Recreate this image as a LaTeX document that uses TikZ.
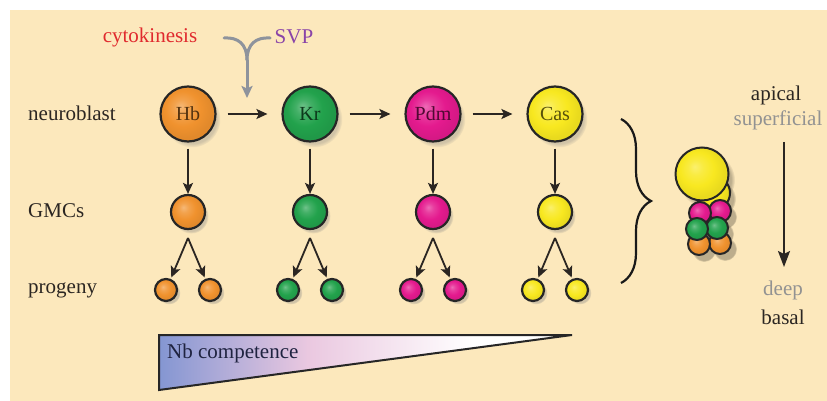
\documentclass[tikz,border=0pt]{standalone}
\usepackage{fontspec}
\setmainfont{Liberation Serif}
\usetikzlibrary{arrows.meta,shadows,fadings,decorations.pathreplacing}

\definecolor{bg}{HTML}{FCE8BC}
\definecolor{cOrange}{HTML}{F0922E}
\definecolor{cGreen}{HTML}{22A24C}
\definecolor{cMagenta}{HTML}{E41A8E}
\definecolor{cYellow}{HTML}{F8E820}
\definecolor{ink}{HTML}{2B2622}
\definecolor{navy}{HTML}{1F2340}
\definecolor{cytoRed}{HTML}{E02A2E}
\definecolor{svpPurple}{HTML}{8A44A8}
\definecolor{ygray}{HTML}{8E939C}
\definecolor{softgray}{HTML}{929292}
\definecolor{gradBlue}{HTML}{8496D2}
\definecolor{gradPink}{HTML}{EAC8E0}

% cell shading: soft highlight towards the upper left
\colorlet{cellc}{cOrange}
\pgfdeclareradialshading[cellc]{cellshade}{\pgfpoint{-7bp}{7bp}}{%
  color(0bp)=(cellc!65!white); color(7bp)=(cellc!85!white);
  color(16bp)=(cellc); color(25bp)=(cellc!94!black); color(50bp)=(cellc!94!black)}

% competence wedge: blue to pink to white
\pgfdeclarehorizontalshading{compshade}{100bp}{%
  color(0bp)=(gradBlue); color(25bp)=(gradBlue); color(43bp)=(gradPink);
  color(63bp)=(white); color(100bp)=(white)}

\begin{document}
\begin{tikzpicture}[x=1pt,y=-1pt,
  lbl/.style={font=\fontsize{21}{24}\selectfont, text=ink, inner sep=0pt},
  cell/.style={circle, draw=black!85, line width=2.2pt,
    /utils/exec={\colorlet{cellc}{#1}}, shading=cellshade,
    inner sep=0pt, text=#1!35!black, font=\fontsize{20}{22}\selectfont},
  nbcell/.style={cell=#1, minimum size=55pt,
    circular drop shadow={shadow xshift=4pt, shadow yshift=-5pt, opacity=.35, shadow scale=1.03}},
  gmccell/.style={cell=#1, minimum size=34pt,
    circular drop shadow={shadow xshift=3pt, shadow yshift=-4pt, opacity=.35, shadow scale=1.03}},
  progcell/.style={cell=#1, minimum size=22pt,
    circular drop shadow={shadow xshift=3pt, shadow yshift=-3pt, opacity=.35, shadow scale=1.03}},
  stackcell/.style={cell=#1, line width=2pt},
  arr/.style={-{Stealth[length=11pt,width=10pt,inset=2.5pt]}, line width=1.8pt, draw=ink},
  grayarr/.style={line width=3pt, draw=ygray, line cap=round},
]
\useasboundingbox (0,0) rectangle (827,401);
\fill[white] (0,0) rectangle (827,401);
\fill[bg] (10,10) rectangle (827,401);

% row labels
\node[lbl, anchor=west] (lNb) at (28,113) {neuroblast};
\node[lbl, anchor=west] (lGmc) at (28,211) {GMCs};
\node[lbl, anchor=west] (lProg) at (28,290) {progeny};

% regulators of the Hb to Kr switch
\node[lbl, text=cytoRed] (cyto) at (150,37) {cytokinesis};
\node[lbl, text=svpPurple] (svp) at (294,37) {SVP};
\coordinate (yL) at (224,38);
\coordinate (yR) at (270,38);
\coordinate (yJ) at (247,60);
\coordinate (yT) at (247,98);
\draw[grayarr] (yL) .. controls (238,37) and (247,44) .. (yJ);
\draw[grayarr] (yR) .. controls (256,37) and (247,44) .. (yJ);
\draw[grayarr, line cap=butt, -{Stealth[length=12pt,width=11pt,inset=2.5pt]}] (yJ) -- (yT);

% neuroblast temporal series
\node[nbcell=cOrange]  (hb)  at (188,114) {Hb};
\node[nbcell=cGreen]   (kr)  at (310,114) {Kr};
\node[nbcell=cMagenta] (pdm) at (433,114) {Pdm};
\node[nbcell=cYellow]  (cas) at (555,114) {Cas};
\draw[arr, shorten <=11pt, shorten >=14pt] (hb) -- (kr);
\draw[arr, shorten <=11pt, shorten >=14pt] (kr) -- (pdm);
\draw[arr, shorten <=11pt, shorten >=14pt] (pdm) -- (cas);

% GMCs and their progeny
\foreach \nm/\x/\c in {hb/188/cOrange, kr/310/cGreen, pdm/433/cMagenta, cas/555/cYellow}{
  \node[gmccell=\c] (\nm-gmc) at (\x,212) {};
  \node[progcell=\c] (\nm-pl) at (\x-22,290) {};
  \node[progcell=\c] (\nm-pr) at (\x+22,290) {};
  \coordinate (\nm-split) at (\x,238);
  \draw[arr, shorten <=6pt] (\nm) -- (\nm-gmc);
  \draw[arr, shorten >=1.5pt] (\nm-split) -- (\nm-pl);
  \draw[arr, shorten >=1.5pt] (\nm-split) -- (\nm-pr);
}

% brace gathering the lineage
\coordinate (brT) at (621,119);
\coordinate (brB) at (621,283);
\draw[line width=2.2pt, draw=black!90, decorate, decoration={brace, amplitude=30pt}] (brT) -- (brB);

% stacked lineage: shadows first
\foreach \x/\y/\r in {713/193/18, 720/211/12, 700/213/12, 720/243/12, 699/244/12, 717/228/12, 697/229/12, 702/174/28}{
  \fill[black, opacity=.25, path fading=circle with fuzzy edge 15 percent] (\x+5,\y+6) circle [radius=\r pt];
}
\node[stackcell=cYellow, minimum size=34pt]  (sY2) at (713,193) {};
\node[stackcell=cMagenta, minimum size=22pt] (sM2) at (720,211) {};
\node[stackcell=cMagenta, minimum size=22pt] (sM1) at (700,213) {};
\node[stackcell=cOrange, minimum size=22pt]  (sO2) at (720,243) {};
\node[stackcell=cOrange, minimum size=22pt]  (sO1) at (699,244) {};
\node[stackcell=cGreen, minimum size=22pt]   (sG2) at (717,228) {};
\node[stackcell=cGreen, minimum size=22pt]   (sG1) at (697,229) {};
\node[stackcell=cYellow, minimum size=53pt]  (sY1) at (702,174) {};

% apical to basal axis
\node[lbl] (apical) at (776,95) {apical};
\node[lbl, text=softgray] (superf) at (778,120) {superficial};
\node[lbl, text=softgray] (deep) at (783,290) {deep};
\node[lbl] (basal) at (783,317) {basal};
\coordinate (axT) at (784,142);
\coordinate (axB) at (784,267);
\draw[line width=2pt, draw=ink, -{Stealth[length=16pt,width=12pt,inset=3pt]}] (axT) -- (axB);

% neuroblast competence wedge
\coordinate (wA) at (159,335);
\coordinate (wB) at (572,335);
\coordinate (wC) at (159,390);
\shade[shading=compshade] (wA) -- (wB) -- (wC) -- cycle;
\draw[line width=2pt, draw=black!85, line join=miter] (wA) -- (wB) -- (wC) -- cycle;
\node[lbl, text=navy, anchor=west] (comp) at (167,353) {Nb competence};
\end{tikzpicture}
\end{document}
